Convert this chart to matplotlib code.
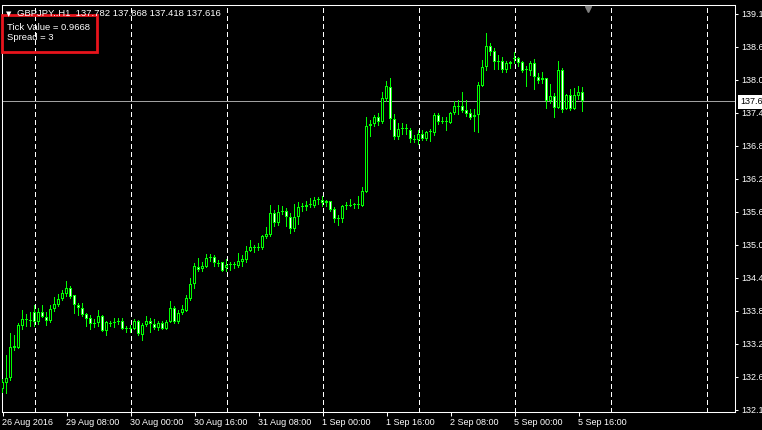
import numpy as np
import matplotlib
matplotlib.use("Agg")
import matplotlib.pyplot as plt
from matplotlib.patches import Rectangle
import matplotlib.transforms as mtransforms

plt.rcParams['font.family'] = ['Liberation Sans', 'DejaVu Sans']

# ---- data: GBPJPY H1 candles (bar 0 = 26 Aug 2016 16:00) ----
opens = [132.527, 132.628, 132.716, 133.281, 133.257, 133.645, 133.746, 133.734, 133.882, 133.716,
         133.882, 133.804, 133.734, 133.935, 134.017, 134.112, 134.206, 134.306, 134.182, 134.011,
         133.953, 133.852, 133.776, 133.688, 133.688, 133.817, 133.547, 133.676, 133.688, 133.705,
         133.728, 133.593, 133.588, 133.588, 133.728, 133.482, 133.658, 133.728, 133.676, 133.610,
         133.698, 133.582, 133.716, 133.953, 133.716, 133.864, 133.911, 134.118, 134.382, 134.682,
         134.642, 134.688, 134.841, 134.865, 134.735, 134.765, 134.659, 134.712, 134.712, 134.700,
         134.765, 134.811, 134.971, 135.024, 135.013, 135.013, 135.218, 135.249, 135.632, 135.465,
         135.649, 135.667, 135.572, 135.349, 135.561, 135.748, 135.748, 135.773, 135.760, 135.866,
         135.866, 135.808, 135.843, 135.702, 135.525, 135.525, 135.760, 135.778, 135.778, 135.783,
         135.760, 136.013, 137.174, 137.204, 137.333, 137.250, 137.645, 137.858, 137.292, 136.985,
         137.115, 137.115, 137.103, 136.939, 136.926, 137.032, 136.939, 137.063, 137.056, 137.369,
         137.250, 137.257, 137.221, 137.398, 137.504, 137.527, 137.457, 137.409, 137.333, 137.369,
         137.886, 138.211, 138.582, 138.499, 138.299, 138.322, 138.163, 138.264, 138.363, 138.370,
         138.299, 138.158, 138.151, 138.282, 138.040, 137.981, 138.017, 137.616, 137.704, 137.497,
         138.163, 137.474, 137.722, 137.469, 137.709, 137.782]
highs = [132.704, 133.128, 133.512, 133.482, 133.698, 133.923, 133.852, 133.888, 134.011, 133.953,
         134.011, 133.893, 134.011, 134.148, 134.206, 134.276, 134.435, 134.347, 134.194, 134.041,
         134.041, 133.875, 133.829, 133.758, 133.923, 133.835, 133.734, 133.734, 133.776, 133.787,
         133.776, 133.645, 133.658, 133.758, 133.746, 133.688, 133.817, 133.776, 133.758, 133.734,
         133.728, 133.746, 134.088, 133.988, 133.923, 134.011, 134.188, 134.483, 134.748, 134.836,
         134.776, 134.907, 134.912, 134.895, 134.806, 134.776, 134.824, 134.776, 134.765, 134.925,
         134.895, 135.053, 135.160, 135.071, 135.102, 135.249, 135.395, 135.778, 135.690, 135.778,
         135.760, 135.719, 135.632, 135.796, 135.836, 135.819, 135.848, 135.907, 135.925, 135.925,
         135.937, 135.866, 135.854, 135.748, 135.601, 135.778, 135.836, 135.878, 135.819, 135.937,
         136.101, 137.339, 137.280, 137.369, 137.398, 137.780, 137.969, 138.017, 137.386, 137.232,
         137.221, 137.209, 137.133, 137.015, 137.103, 137.103, 137.091, 137.121, 137.409, 137.409,
         137.339, 137.328, 137.426, 137.621, 137.633, 137.780, 137.633, 137.469, 137.469, 137.957,
         138.340, 138.812, 138.635, 138.547, 138.428, 138.388, 138.322, 138.322, 138.487, 138.398,
         138.322, 138.239, 138.322, 138.358, 138.105, 138.123, 138.027, 137.911, 137.752, 138.322,
         138.193, 137.734, 137.828, 137.840, 137.881, 137.868]
lows = [132.452, 132.439, 132.674, 133.198, 133.228, 133.570, 133.628, 133.628, 133.628, 133.658,
        133.776, 133.645, 133.688, 133.893, 133.981, 134.088, 134.158, 134.112, 133.858, 133.822,
        133.804, 133.628, 133.570, 133.600, 133.628, 133.540, 133.469, 133.617, 133.600, 133.658,
        133.570, 133.522, 133.511, 133.570, 133.464, 133.381, 133.628, 133.522, 133.570, 133.552,
        133.570, 133.570, 133.688, 133.676, 133.676, 133.835, 133.893, 134.088, 134.288, 134.589,
        134.589, 134.659, 134.776, 134.688, 134.688, 134.589, 134.589, 134.612, 134.642, 134.671,
        134.688, 134.759, 134.953, 134.935, 134.965, 134.983, 135.172, 135.218, 135.395, 135.412,
        135.601, 135.395, 135.260, 135.301, 135.425, 135.660, 135.677, 135.730, 135.719, 135.778,
        135.748, 135.737, 135.660, 135.465, 135.412, 135.455, 135.690, 135.737, 135.702, 135.702,
        135.748, 135.995, 136.985, 137.162, 137.174, 137.209, 137.604, 137.103, 136.926, 136.926,
        137.015, 137.015, 136.879, 136.879, 136.838, 136.909, 136.914, 136.897, 136.997, 137.192,
        137.204, 137.091, 137.204, 137.369, 137.369, 137.398, 137.339, 137.280, 137.073, 137.045,
        137.868, 138.151, 138.416, 138.163, 138.163, 138.116, 138.116, 138.176, 138.264, 138.222,
        138.116, 137.868, 138.063, 137.810, 137.911, 137.911, 137.474, 137.557, 137.320, 137.474,
        137.398, 137.457, 137.439, 137.457, 137.633, 137.418]
closes = [132.645, 132.716, 133.274, 133.260, 133.658, 133.758, 133.751, 133.728, 133.716, 133.882,
          133.804, 133.734, 133.935, 134.024, 134.112, 134.218, 134.306, 134.158, 134.006, 133.953,
          133.840, 133.769, 133.670, 133.681, 133.817, 133.547, 133.716, 133.698, 133.711, 133.728,
          133.582, 133.588, 133.600, 133.728, 133.494, 133.658, 133.728, 133.670, 133.610, 133.698,
          133.582, 133.716, 133.953, 133.716, 133.875, 133.935, 134.130, 134.382, 134.705, 134.624,
          134.700, 134.836, 134.859, 134.759, 134.730, 134.612, 134.718, 134.723, 134.730, 134.788,
          134.824, 134.965, 135.036, 135.036, 135.018, 135.231, 135.260, 135.632, 135.465, 135.649,
          135.667, 135.572, 135.349, 135.566, 135.748, 135.755, 135.783, 135.783, 135.866, 135.878,
          135.808, 135.843, 135.690, 135.525, 135.536, 135.760, 135.773, 135.760, 135.801, 135.796,
          136.025, 137.174, 137.204, 137.339, 137.250, 137.663, 137.881, 137.292, 136.985, 137.115,
          137.133, 137.126, 136.939, 136.926, 137.032, 136.939, 137.073, 137.080, 137.369, 137.250,
          137.268, 137.245, 137.409, 137.527, 137.527, 137.444, 137.386, 137.310, 137.363, 137.898,
          138.211, 138.587, 138.487, 138.299, 138.317, 138.163, 138.292, 138.299, 138.375, 138.292,
          138.151, 138.163, 138.282, 138.045, 137.969, 138.017, 137.616, 137.704, 137.497, 138.163,
          137.457, 137.722, 137.469, 137.722, 137.780, 137.616]

x_tick_bars = [0, 16, 32, 48, 64, 80, 96, 112, 128, 144]
x_tick_labels = ["26 Aug 2016", "29 Aug 08:00", "30 Aug 00:00", "30 Aug 16:00", "31 Aug 08:00",
                 "1 Sep 00:00", "1 Sep 16:00", "2 Sep 08:00", "5 Sep 00:00", "5 Sep 16:00"]
day_start_bars = [8, 32, 56, 80, 104, 128, 152, 176]
y_tick_values = [139.153, 138.570, 137.987, 137.404, 136.821, 136.238, 135.655,
                 135.072, 134.489, 133.906, 133.323, 132.740, 132.157]
y_tick_labels = ["139.1", "138.6", "138.0", "137.4", "136.8", "136.2", "135.6",
                 "135.0", "134.4", "133.8", "133.2", "132.6", "132.1"]
bid_price = 137.616
bid_label = "137.6"
header_text = "GBPJPY..H1  137.782 137.868 137.418 137.616"
info_lines = ["Tick Value = 0.9668", "Spread = 3"]

# ---- layout ----
W, H = 762, 430
LIME = '#00ff00'
fig = plt.figure(figsize=(W / 100, H / 100), dpi=100, facecolor='black')
ax_l, ax_r, ax_t, ax_b = 1.5, 735.0, 5.0, 412.3
ax = fig.add_axes([ax_l / W, 1 - ax_b / H, (ax_r - ax_l) / W, (ax_b - ax_t) / H])
ax.set_facecolor('black')
YMIN, YMAX = 132.116, 139.312
ax.set_xlim(-0.25, -0.25 + (ax_r - ax_l) / 4.0)
ax.set_ylim(YMIN, YMAX)
px_x = 0.25                                  # one pixel in bar units
px_y = (YMAX - YMIN) / (ax_b - ax_t)         # one pixel in price units

o = np.array(opens); h = np.array(highs); l = np.array(lows); c = np.array(closes)
x = np.arange(len(o))
up = c >= o
body_lo = np.minimum(o, c)
body_h = np.abs(c - o)

# day separators
ax.vlines(day_start_bars, YMIN, YMAX, colors='white', linewidth=0.75,
          linestyles=(0, (4, 3)), zorder=1, antialiased=False)
# bid line
ax.axhline(bid_price, color='#a0a0a0', linewidth=0.5, zorder=2, antialiased=False)

# wicks (1 px)
ax.bar(x, h - l, bottom=l, width=px_x, color=LIME, linewidth=0, zorder=3, antialiased=False)
# body outline (3 px wide, lime)
outer_h = np.maximum(body_h, px_y)
ax.bar(x, outer_h, bottom=body_lo, width=3 * px_x, color=LIME, linewidth=0, zorder=4,
       antialiased=False)
# body interior (1 px wide): black for up candles, white for down candles
inner_h = body_h - 2 * px_y
has_inner = inner_h > 0
ax.bar(x[has_inner], inner_h[has_inner], bottom=body_lo[has_inner] + px_y, width=px_x,
       color=np.where(up[has_inner], 'black', 'white'), linewidth=0, zorder=5,
       antialiased=False)

for s in ax.spines.values():
    s.set_color('white')
    s.set_linewidth(0.75)

ax.yaxis.tick_right()
ax.set_yticks(y_tick_values, y_tick_labels)
ax.tick_params(axis='y', colors='white', length=2.2, width=0.75, pad=2.0, labelsize=6.5)
ax.set_xticks(x_tick_bars, x_tick_labels, ha='left')
ax.tick_params(axis='x', colors='white', length=2.7, width=0.75, pad=1.2, labelsize=6.5)

# bid price label box
trans = mtransforms.blended_transform_factory(ax.transAxes, ax.transData)
ax.text(1 + 5.5 / (ax_r - ax_l), bid_price, bid_label, transform=trans, color='black',
        fontsize=6.5, ha='left', va='center_baseline', clip_on=False, zorder=7,
        bbox=dict(boxstyle='square,pad=0.3', fc='white', ec='none'))

# chart shift marker
ax.plot([(588 - ax_l) / (ax_r - ax_l)], [1 - 3.5 / (ax_b - ax_t)], marker='v', color='#808080',
        markersize=4.5, transform=ax.transAxes, clip_on=False, zorder=6)

# header
fig.text(6 / W, 1 - 16.0 / H, "\u25BC", color='white', fontsize=5, family='DejaVu Sans',
         va='baseline')
fig.text(17 / W, 1 - 16.5 / H, header_text, color='white', fontsize=6.8, va='baseline')

# info box
fig.add_artist(Rectangle((1.7 / W, 1 - 51.7 / H), 95 / W, 36.7 / H, transform=fig.transFigure,
                         fill=False, edgecolor='#e8141c', linewidth=2.0))
fig.text(7 / W, 1 - 30 / H, info_lines[0], color='white', fontsize=6.8, va='baseline')
fig.text(7 / W, 1 - 40.5 / H, info_lines[1], color='white', fontsize=6.8, va='baseline')

fig.savefig('out.png', dpi=100, facecolor='black')
